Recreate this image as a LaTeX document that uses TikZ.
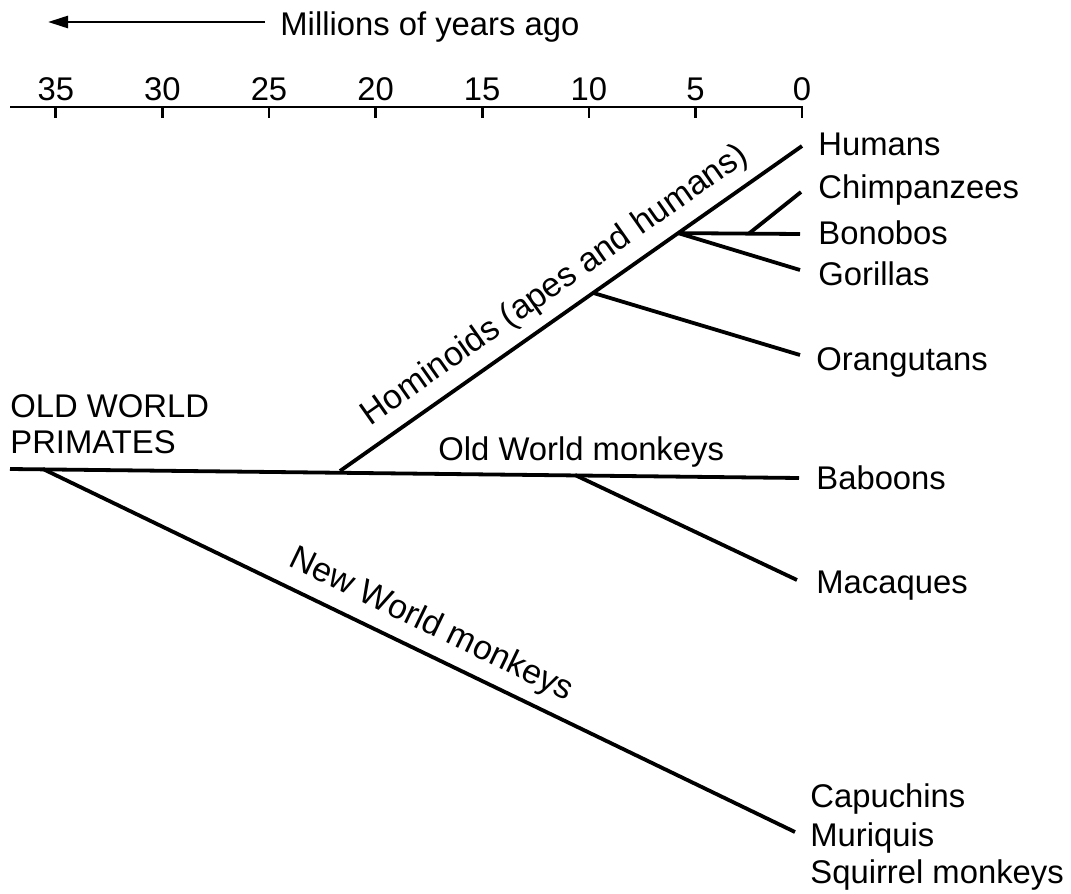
\documentclass[tikz,border=0pt]{standalone}
\usepackage{fontspec}
\setmainfont{Liberation Sans}
\usetikzlibrary{arrows.meta,calc}

\tikzset{
  branch/.style={line width=1.9pt},
  axisline/.style={line width=1.3pt},
  taxon/.style={anchor=base west, inner sep=0pt},
  clade/.style={sloped, above, inner sep=5pt, font=\fontsize{17}{20}\selectfont},
}

\begin{document}
\begin{tikzpicture}[x=5pt, y=-5pt, font=\fontsize{16.4}{19}\selectfont]
  \useasboundingbox (0,0) rectangle (107.1,89.4);

  % ---- time axis ----
  \node[anchor=base west, inner sep=0pt] (title) at (28.0,3.5) {Millions of years ago};
  \coordinate (arrtail) at (26.5,2.2);
  \coordinate (arrtip) at (4.8,2.2);
  \draw[axisline, -{Triangle[length=10pt, width=6pt]}] (arrtail) -- (arrtip);

  \coordinate (axL) at (1.0,10.7);
  \coordinate (axR) at (80.3,10.7);
  \draw[axisline] (axL) -- (axR);
  \foreach \t in {35,30,...,0} {
    \node[anchor=base] (lab\t) at ({80.2-2.132*\t},10.0) {\t};
    \coordinate (tk\t) at ({80.2-2.132*\t},10.7);
    \draw[axisline] (tk\t) -- ++(0,1.1);
  }

  % ---- junctions and tips ----
  \coordinate (root) at (1.0,46.9);
  \coordinate (nwm) at (4.3,46.9);
  \coordinate (hom) at (34.0,47.1);
  \coordinate (owm) at (57.5,47.5);
  \coordinate (bab) at (79.9,47.8);
  \coordinate (mac) at (79.7,58.0);
  \coordinate (cap) at (79.5,83.2);
  \coordinate (hum) at (80.2,14.6);
  \coordinate (ora) at ($(hom)!0.548!(hum)$);
  \coordinate (gor) at ($(hom)!0.732!(hum)$);
  \coordinate (bon) at (80.0,23.4);
  \coordinate (chi) at ($(gor)!0.58!(bon)$);
  \coordinate (chiend) at (80.1,19.2);
  \coordinate (gorend) at (80.0,27.0);
  \coordinate (oraend) at (80.0,35.5);

  % ---- branches ----
  \draw[branch] (root) -- (bab);
  \draw[branch] (nwm) -- node[clade, pos=0.5] (nwmlab) {New World monkeys} (cap);
  \draw[branch] (hom) -- node[clade, pos=0.5] (homlab) {Hominoids (apes and humans)} (hum);
  \draw[branch] (owm) -- (mac);
  \draw[branch] (ora) -- (oraend);
  \draw[branch] (gor) -- (gorend);
  \draw[branch] (gor) -- (bon);
  \draw[branch] (chi) -- (chiend);

  % ---- labels ----
  \node[taxon] (humans) at (81.8,15.5) {Humans};
  \node[taxon] (chimps) at (81.8,19.8) {Chimpanzees};
  \node[taxon] (bonobos) at (81.8,24.4) {Bonobos};
  \node[taxon] (gorillas) at (81.8,28.5) {Gorillas};
  \node[taxon] (orangs) at (81.6,37.0) {Orangutans};
  \node[taxon] (baboons) at (81.6,48.9) {Baboons};
  \node[taxon] (macaques) at (81.6,59.3) {Macaques};
  \node[taxon] (capuchins) at (81.0,80.7) {Capuchins};
  \node[taxon] (muriquis) at (81.0,84.6) {Muriquis};
  \node[taxon] (squirrels) at (81.0,88.3) {Squirrel monkeys};
  \node[taxon] (owp1) at (1.0,41.7) {OLD WORLD};
  \node[taxon] (owp2) at (1.0,45.3) {PRIMATES};
  \node[taxon] (owmlab) at (43.8,46.0) {Old World monkeys};

\end{tikzpicture}
\end{document}
